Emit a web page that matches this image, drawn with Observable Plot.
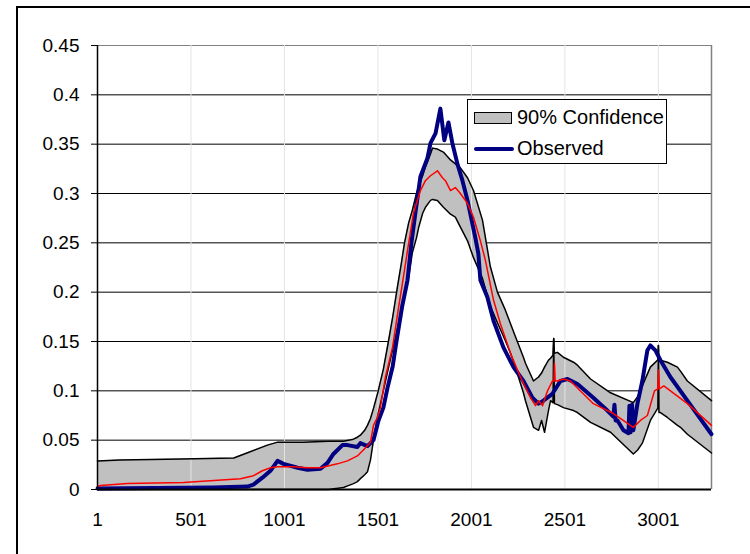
<!DOCTYPE html>
<html><head><meta charset="utf-8">
<script src="https://cdn.jsdelivr.net/npm/d3@7"></script>
<script src="https://cdn.jsdelivr.net/npm/@observablehq/plot@0.6"></script>
<style>
html,body{margin:0;padding:0;background:#fff;overflow:hidden;}
#wrap{position:relative;width:750px;height:554px;overflow:hidden;font-family:"Liberation Sans",Arial,sans-serif;}
#chart{position:absolute;left:0;top:0;}
#border{position:absolute;left:16px;top:6px;width:800px;height:600px;border-left:2px solid #000;border-top:2px solid #000;}
#legend{position:absolute;left:467px;top:99px;width:198px;height:63px;border:1px solid #000;background:#fff;font-size:20px;color:#000;}
#legend .sw{position:absolute;left:6px;top:12px;width:36px;height:10px;background:#c0c0c0;border:1px solid #000;}
#legend .ln{position:absolute;left:6px;top:47px;width:40px;height:4px;background:#000080;border-radius:2px;}
#legend .t{position:absolute;left:49px;line-height:22px;white-space:nowrap;}
</style>
</head><body>
<div id="wrap">
  <div id="border"></div>
  <div id="chart"></div>
  <div id="legend">
    <div class="sw"></div><div class="t" style="top:6px">90% Confidence</div>
    <div class="ln"></div><div class="t" style="top:37px">Observed</div>
  </div>
</div>
<script>
// ---- data ----
const xTicks = [1, 501, 1001, 1501, 2001, 2501, 3001];
const yTicks = [0, 0.05, 0.1, 0.15, 0.2, 0.25, 0.3, 0.35, 0.4, 0.45];
const xMax = 3285;

// 90% confidence band
const bandX  = [1,120,450,730,800,910,965,1100,1236,1316,1370,1391,1407,1430,1445,1461,1477,1500,1530,1557,1580,1605,1625,1643,1665,1685,1707,1718,1740,1755,1782,1793,1819,1851,1889,1915,1942,1980,2012,2060,2102,2140,2182,2210,2236,2279,2290,2333,2360,2376,2392,2413,2424,2437,2441,2445,2461,2493,2547,2568,2638,2745,2867,2890,2915,2958,2996,2998,3001,3004,3012,3049,3103,3119,3156,3285];
const bandHi = [0.029,0.030,0.031,0.032,0.037,0.045,0.048,0.048,0.049,0.049,0.051,0.053,0.055,0.060,0.065,0.072,0.082,0.098,0.122,0.150,0.175,0.205,0.228,0.250,0.270,0.283,0.300,0.307,0.318,0.327,0.340,0.346,0.345,0.342,0.334,0.330,0.326,0.316,0.303,0.273,0.226,0.200,0.182,0.168,0.155,0.134,0.128,0.110,0.114,0.118,0.124,0.131,0.133,0.136,0.153,0.138,0.139,0.134,0.129,0.126,0.112,0.098,0.088,0.094,0.105,0.124,0.131,0.131,0.146,0.131,0.131,0.129,0.124,0.120,0.110,0.090];
const bandLo = [0,0,0,0,0,0,0,0,0,0.002,0.006,0.008,0.011,0.015,0.018,0.030,0.050,0.075,0.100,0.123,0.142,0.163,0.180,0.195,0.215,0.240,0.255,0.265,0.280,0.286,0.293,0.294,0.293,0.286,0.279,0.276,0.266,0.252,0.235,0.214,0.186,0.169,0.151,0.138,0.124,0.098,0.090,0.063,0.060,0.070,0.058,0.080,0.090,0.088,0.153,0.087,0.086,0.083,0.080,0.078,0.068,0.058,0.036,0.040,0.047,0.070,0.082,0.082,0.146,0.078,0.078,0.073,0.065,0.063,0.056,0.037];

// median (red)
const medX = [1,17,161,461,766,835,883,926,964,1049,1124,1194,1284,1338,1391,1423,1461,1477,1498,1514,1541,1579,1611,1632,1659,1691,1728,1755,1782,1819,1846,1862,1889,1915,1942,1980,2012,2049,2076,2119,2156,2210,2263,2317,2344,2360,2381,2408,2434,2442,2445,2449,2461,2493,2530,2653,2760,2867,2905,2942,2980,2998,3001,3006,3030,3156,3285];
const medY = [0.003,0.004,0.006,0.007,0.011,0.014,0.019,0.022,0.023,0.023,0.022,0.022,0.026,0.029,0.034,0.040,0.048,0.065,0.073,0.083,0.114,0.144,0.184,0.209,0.242,0.280,0.303,0.313,0.318,0.323,0.316,0.313,0.303,0.306,0.300,0.290,0.276,0.252,0.232,0.192,0.168,0.138,0.114,0.093,0.085,0.090,0.085,0.100,0.110,0.110,0.128,0.110,0.110,0.112,0.110,0.087,0.077,0.063,0.070,0.075,0.100,0.102,0.121,0.102,0.105,0.087,0.065];

// observed (navy)
const obsX = [1,621,803,835,883,926,964,996,1071,1124,1194,1231,1263,1311,1338,1391,1407,1445,1477,1504,1530,1552,1580,1600,1630,1659,1680,1701,1728,1766,1782,1809,1835,1856,1878,1899,1926,1953,1980,2022,2038,2049,2086,2119,2172,2226,2279,2327,2360,2386,2434,2477,2515,2568,2653,2728,2760,2766,2772,2782,2814,2841,2846,2852,2860,2867,2889,2915,2942,2958,2985,3012,3065,3156,3285];
const obsY = [0.001,0.002,0.003,0.005,0.012,0.019,0.029,0.026,0.022,0.020,0.021,0.027,0.036,0.045,0.045,0.043,0.047,0.044,0.050,0.070,0.083,0.103,0.125,0.150,0.185,0.212,0.250,0.280,0.317,0.336,0.351,0.361,0.386,0.354,0.372,0.351,0.330,0.313,0.293,0.255,0.239,0.212,0.195,0.171,0.144,0.124,0.110,0.093,0.087,0.090,0.097,0.110,0.112,0.107,0.093,0.080,0.074,0.086,0.070,0.070,0.060,0.057,0.085,0.058,0.086,0.060,0.087,0.110,0.141,0.146,0.141,0.131,0.114,0.090,0.056];

// ---- build tables ----
const band = bandX.map((x, i) => ({x, hi: bandHi[i], lo: bandLo[i]}));
const med = medX.map((x, i) => ({x, y: medY[i]}));
const obs = obsX.map((x, i) => ({x, y: obsY[i]}));
const yGrid = yTicks.filter(v => v > 0 && v < 0.45);

const fmtY = d => d === 0 ? "0" : String(+d.toFixed(2));

const chart = Plot.plot({
  width: 750,
  height: 554,
  marginLeft: 97,
  marginRight: 39,
  marginTop: 45,
  marginBottom: 65,
  style: {fontFamily: '"Liberation Sans", Arial, sans-serif', fontSize: "19px", color: "#000", background: "transparent", overflow: "visible"},
  x: {domain: [1, xMax]},
  y: {domain: [0, 0.45]},
  marks: [
    Plot.ruleY(yGrid, {stroke: "#000", strokeWidth: 1}),
    Plot.ruleY([0.45], {stroke: "#808080", strokeWidth: 1}),
    Plot.areaY(band, {x: "x", y: "hi", fill: "#c0c0c0"}),
    Plot.areaY(band, {x: "x", y: "lo", fill: "#ffffff"}),
    Plot.ruleX(xTicks.slice(1), {stroke: "#e4e4e4", strokeWidth: 1}),
    Plot.ruleX([xMax], {stroke: "#808080", strokeWidth: 1.5}),
    Plot.line(band, {x: "x", y: "hi", stroke: "#000", strokeWidth: 1.5}),
    Plot.line(band, {x: "x", y: "lo", stroke: "#000", strokeWidth: 1.5}),
    Plot.line(obs, {x: "x", y: "y", stroke: "#000080", strokeWidth: 4, strokeLinejoin: "round", strokeLinecap: "round"}),
    Plot.line(med, {x: "x", y: "y", stroke: "#ff0000", strokeWidth: 1.5}),
    Plot.ruleX([1], {stroke: "#000", strokeWidth: 1.5}),
    Plot.ruleY([0], {stroke: "#000", strokeWidth: 2}),
    Plot.axisY({ticks: yTicks, tickSize: 6, tickPadding: 12, tickFormat: fmtY, fontSize: 19, stroke: "#000", label: null}),
    Plot.axisX({ticks: xTicks, tickSize: 0, tickPadding: 23, tickFormat: d => String(d), fontSize: 19, label: null})
  ]
});
document.getElementById("chart").appendChild(chart);
</script>
</body></html>
